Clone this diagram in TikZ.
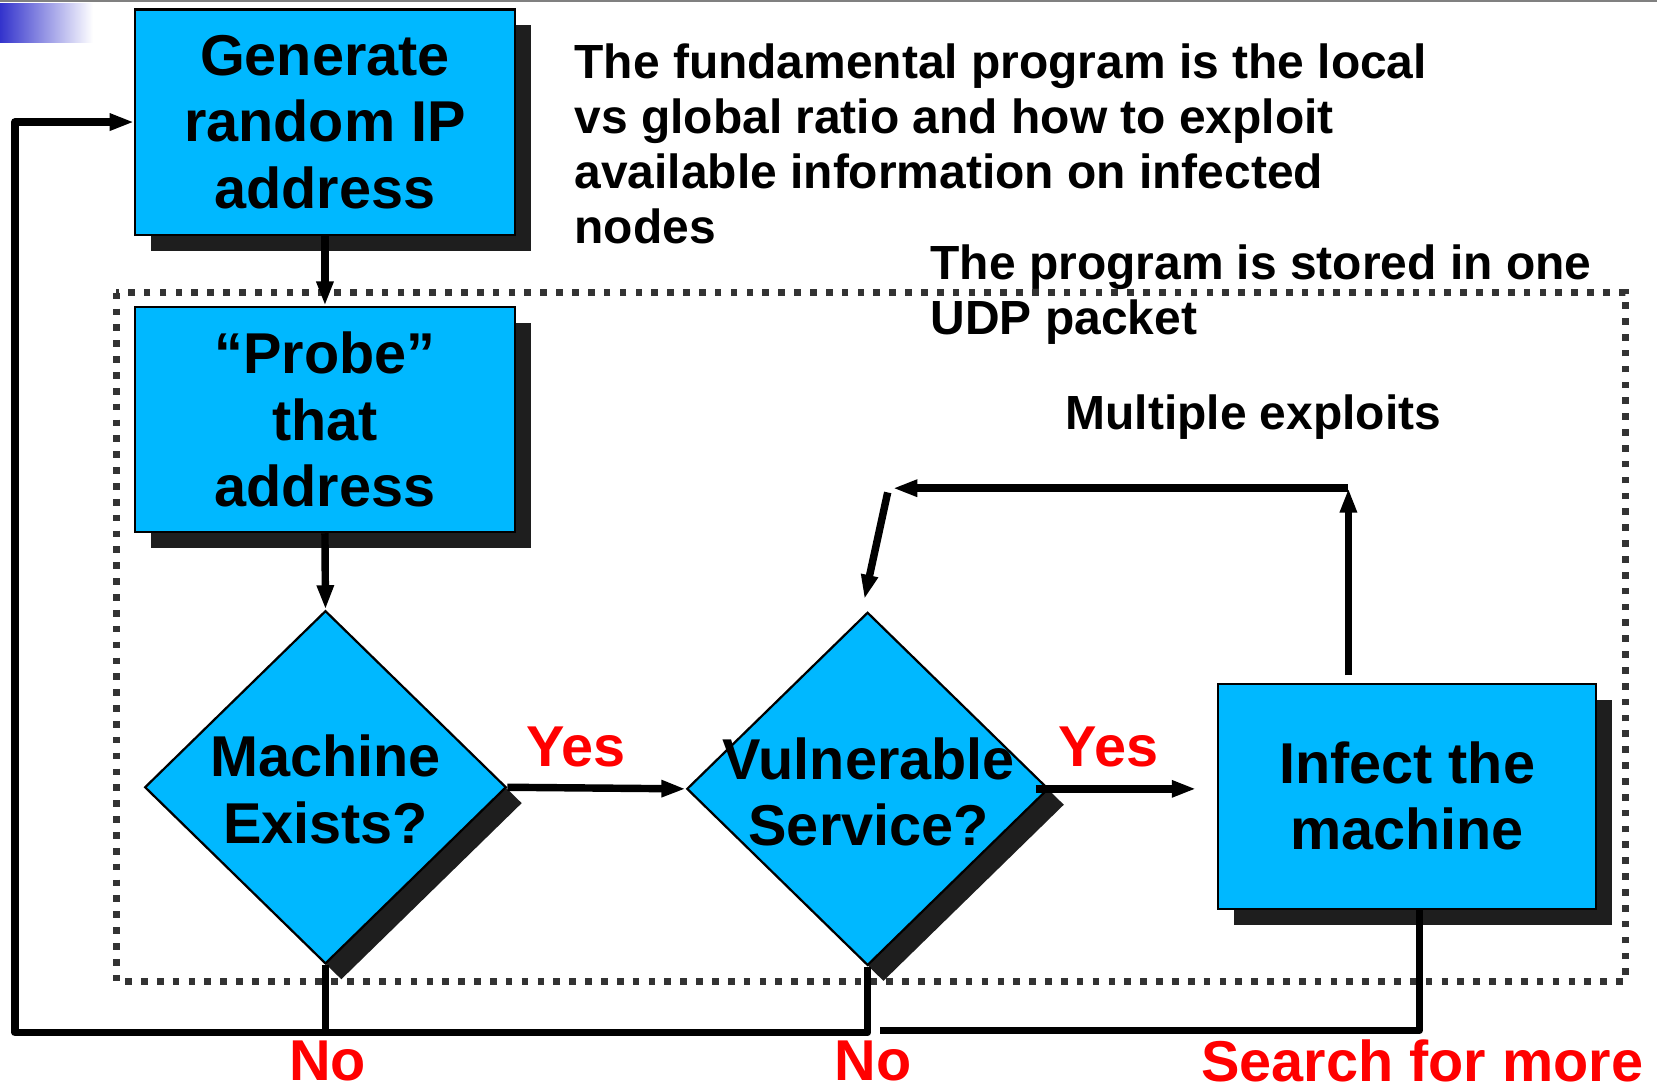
\documentclass[tikz,border=0pt]{standalone}
\usepackage{fontspec}
\setmainfont{Liberation Sans}
\usetikzlibrary{shadows,shapes.geometric,arrows.meta,calc}
\definecolor{boxblue}{RGB}{0,184,255}
\definecolor{shadowgray}{RGB}{30,30,30}
\definecolor{dotgray}{RGB}{51,51,51}
\definecolor{decoblue}{RGB}{51,51,204}
\newcommand\flowfont{\fontsize{15.5}{17.8}\selectfont\bfseries}
\newcommand\notefont{\fontsize{12.9}{14.8}\selectfont\bfseries}
\begin{document}
\begin{tikzpicture}[x=0.01cm,y=-0.01cm,
  shadowed/.style={drop shadow={shadow xshift=0.15cm,shadow yshift=-0.15cm,opacity=1,fill=shadowgray}},
  flowbox/.style={draw=black,line width=0.6pt,fill=boxblue,shadowed,minimum width=3.59cm,minimum height=2.13cm,inner sep=0pt,align=center,font=\flowfont},
  decision/.style={diamond,draw=black,line width=0.6pt,fill=boxblue,shadowed,minimum width=3.42cm,minimum height=3.34cm,inner sep=0pt},
  flowtext/.style={align=center,font=\flowfont,inner sep=0pt},
  note/.style={align=left,font=\notefont,inner sep=0pt},
  lbl/.style={text=red,font=\flowfont,inner sep=0pt},
  conn/.style={line width=2pt,line join=round},
  arr/.style={conn,-{Triangle[length=0.23cm,width=0.15cm]}},
  frame/.style={dotgray,line width=0.063cm,dash pattern=on 0.063cm off 0.087cm}
]
\useasboundingbox (0,0) rectangle (1568,1031);
% top decoration
\draw[gray,line width=0.02cm] (0,1) -- (1568,1);
\shade[left color=decoblue,right color=white] (0,3) rectangle (88,40);
% dotted frame
\draw[frame] (110,277) rectangle (1538,929);
% nodes
\node[flowbox] (G) at (307.5,115.5) {Generate\\random IP\\address};
\node[flowbox] (P) at (307.5,397) {“Probe”\\that\\address};
\node[decision] (M) at (308,745) {};
\node[flowtext] (Mt) at (308,747) {Machine\\Exists?};
\node[decision] (V) at (821,746.5) {};
\node[flowtext] (Vt) at (822,749) {Vulnerable\\Service?};
\node[flowbox,minimum width=3.57cm] (I) at (1331.5,753.5) {Infect the\\machine};
% texts
\node[note,anchor=north west] (fund) at (543,41) {The fundamental program is the local\\vs global ratio and how to exploit\\available information on infected\\nodes};
\node[note,anchor=north west] (udp) at (880,231) {The program is stored in one\\UDP packet};
\node[note] (multi) at (1186,395) {Multiple exploits};
% labels
\node[lbl] (yes1) at (545,707) {Yes};
\node[lbl] (yes2) at (1049,707) {Yes};
\node[lbl] (no1) at (310,1004) {No};
\node[lbl] (no2) at (826,1004) {No};
\node[lbl] (more) at (1346,1004) {Search for more};
% coordinates
\coordinate (upT) at (1276,462);
\coordinate (leftT) at (845,462);
\coordinate (diagS) at (840,466);
\coordinate (diagE) at (818,567);
\coordinate (bl) at (14,977);
\coordinate (sr) at (1343,975);
\coordinate (sl) at (833,975);
% connectors
\draw[arr] (G.south) -- (P.north);
\draw[arr] (P.south) -- (M.north);
\draw[arr] (M.east) -- (V.west);
\draw[arr] ([xshift=-0.13cm]V.east) -- ([xshift=-0.2cm]I.west |- V.east);
\draw[arr] ($(I.north -| upT)+(0,-7)$) -- (upT);
\draw[arr] (upT) -- (leftT);
\draw[arr] (diagS) -- (diagE);
\draw[arr] (M.south) |- (bl) |- (G.west);
\draw[conn] (V.south) |- (M.south |- bl);
\draw[conn] (I.south -| sr) -- (sr) -- (sl);
\end{tikzpicture}
\end{document}
